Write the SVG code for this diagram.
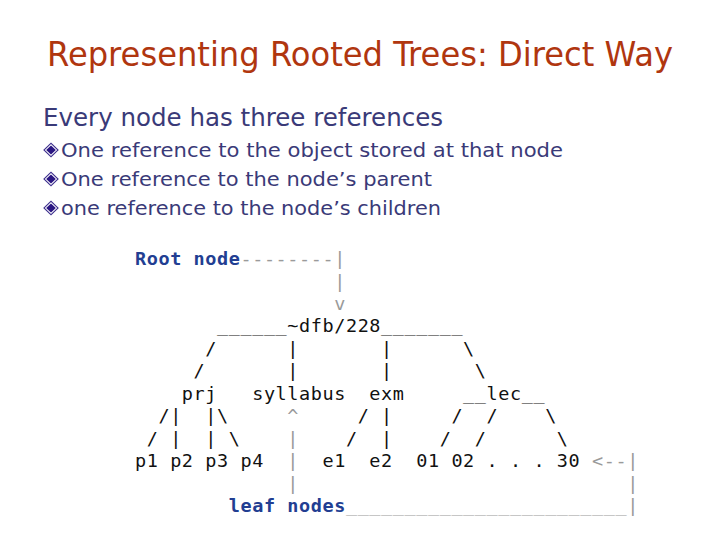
<svg xmlns="http://www.w3.org/2000/svg" width="720" height="540" viewBox="0 0 720 540">
<style>
.title{font-family:"DejaVu Sans",Verdana,sans-serif;font-size:34px;fill:#B0360F}
.body{font-family:"DejaVu Sans",Verdana,sans-serif;fill:#3A3A78}
.mono{font-family:"DejaVu Sans Mono",monospace;font-size:18.5px;letter-spacing:0.58px;fill:#111;white-space:pre}
.g{fill:#9a9a9a}
.b{fill:#223E92;font-weight:bold}
</style>
<defs>
<g id="bullet">
<polygon points="0,-7.5 7.8,0 0,7.5 -7.8,0" fill="#3B2D8C"/>
<polygon points="0,-6 6.2,0 0,6 -6.2,0" fill="#ffffff"/>
<polygon points="0,-4.6 4.8,0 0,4.6 -4.8,0" fill="#2A1682"/>
</g>
</defs>
<rect width="720" height="540" fill="#ffffff"/>
<g id="title">
<text class="title" x="47" y="66" textLength="626" lengthAdjust="spacingAndGlyphs">Representing Rooted Trees: Direct Way</text>
</g>
<g id="text">
<text class="body" x="43" y="126" font-size="25.5" textLength="400" lengthAdjust="spacingAndGlyphs">Every node has three references</text>
<use href="#bullet" x="51" y="150"/>
<use href="#bullet" x="51" y="179"/>
<use href="#bullet" x="51" y="208"/>
<text class="body" x="61" y="157" font-size="19.5" textLength="502" lengthAdjust="spacingAndGlyphs">One reference to the object stored at that node</text>
<text class="body" x="61" y="186" font-size="19.5" textLength="371" lengthAdjust="spacingAndGlyphs">One reference to the node’s parent</text>
<text class="body" x="61" y="215" font-size="19.5" textLength="380" lengthAdjust="spacingAndGlyphs">one reference to the node’s children</text>
</g>
<g id="tree" class="mono" xml:space="preserve">
<text class="mono" x="135" y="265"><tspan class="b">Root node</tspan><tspan class="g">--------|</tspan></text>
<text class="mono" x="135" y="287.5"><tspan class="g">                 |</tspan></text>
<text class="mono" x="135" y="310">                 <tspan class="g">v</tspan></text>
<text class="mono" x="135" y="332.4">       ______~dfb/228_______</text>
<text class="mono" x="135" y="354.8">      /      |       |      \</text>
<text class="mono" x="135" y="377.3">     /       |       |       \</text>
<text class="mono" x="135" y="399.7">    prj   syllabus  exm     __lec__</text>
<text class="mono" x="135" y="422.2">  /|  |\     <tspan class="g">^</tspan>     / |     /  /    \</text>
<text class="mono" x="135" y="444.6"> / |  | \    <tspan class="g">|</tspan>    /  |    /  /      \</text>
<text class="mono" x="135" y="467">p1 p2 p3 p4  <tspan class="g">|</tspan>  e1  e2  01 02 . . . 30 <tspan class="g">&lt;--|</tspan></text>
<text class="mono" x="135" y="489.5">             <tspan class="g">|</tspan>                            <tspan class="g">|</tspan></text>
<text class="mono" x="135" y="512">        <tspan class="b">leaf nodes</tspan><tspan class="g">________________________|</tspan></text>
</g>
</svg>
